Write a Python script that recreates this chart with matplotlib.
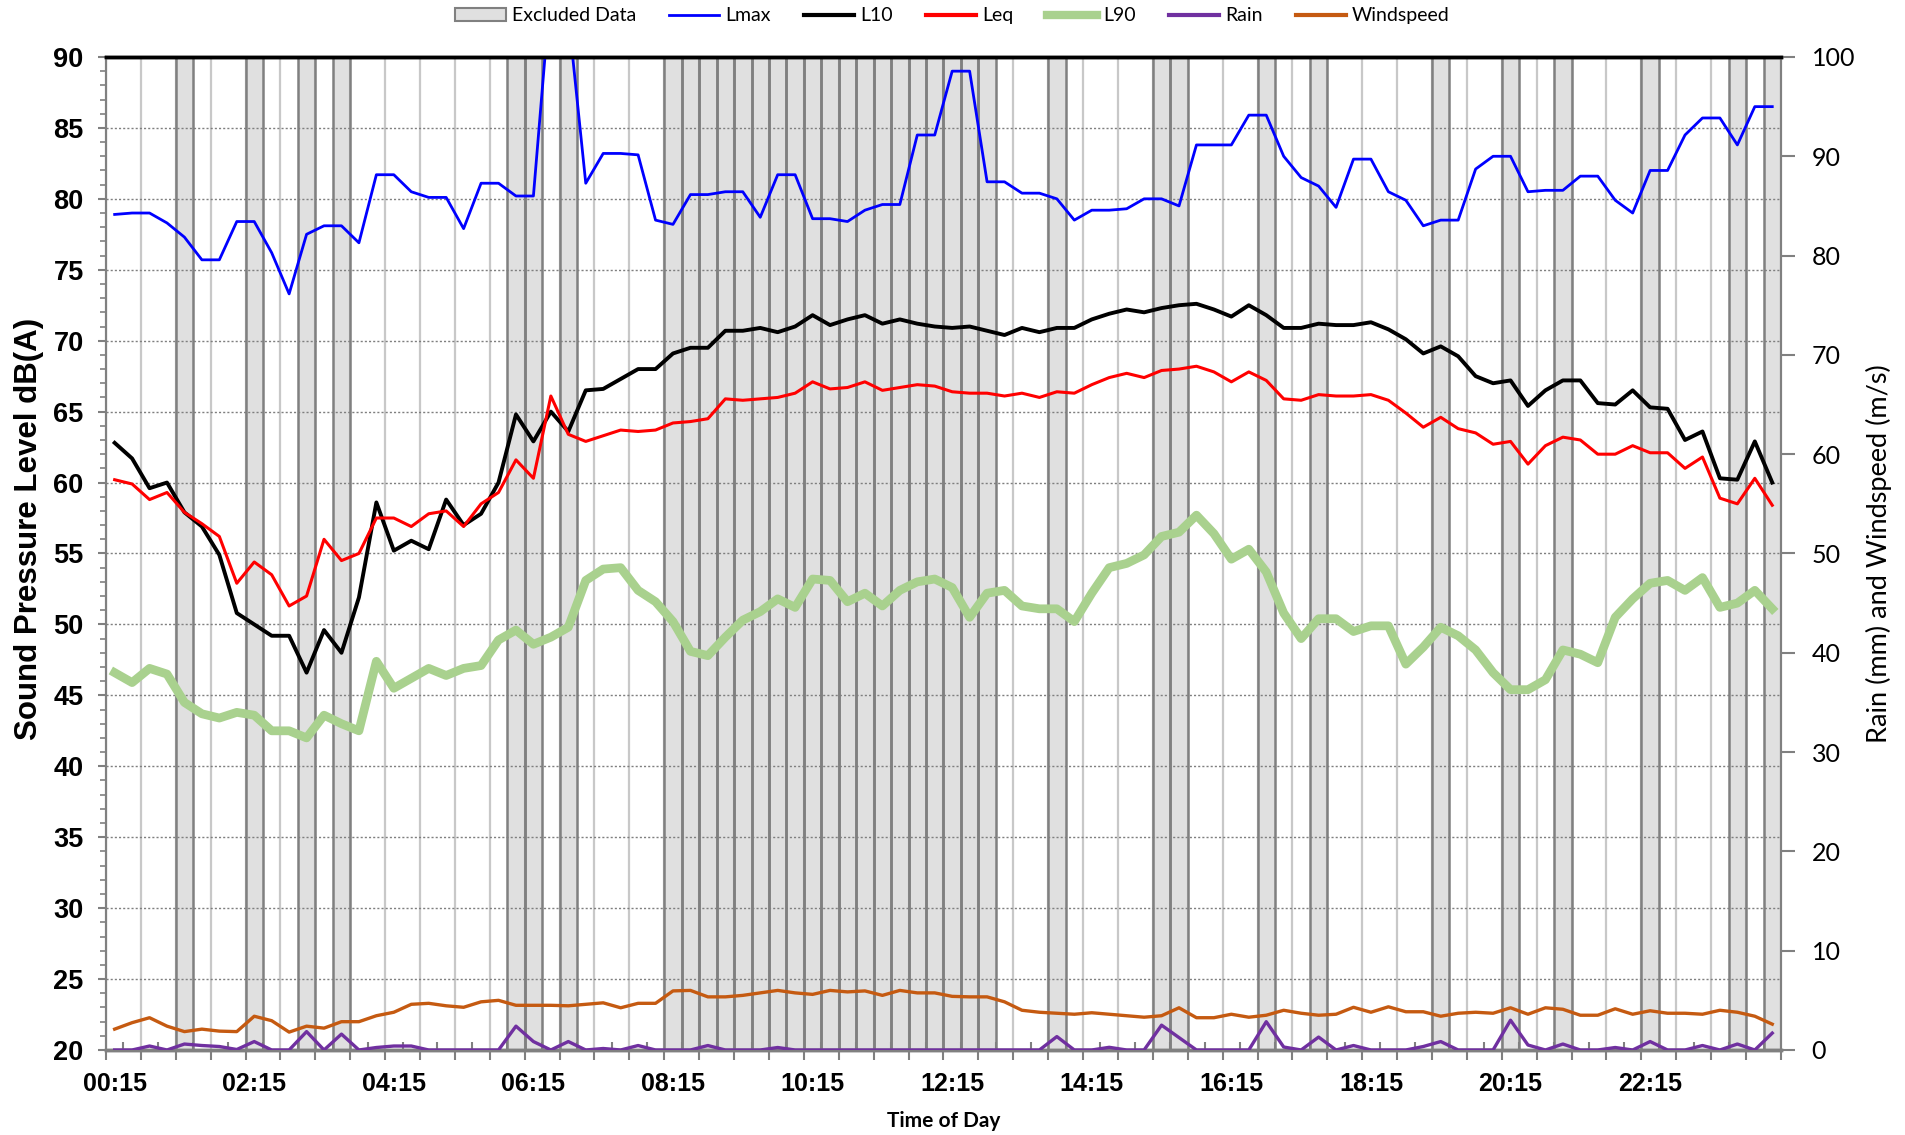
import numpy
import matplotlib
matplotlib.use('Agg')
import matplotlib.pyplot as plt
from matplotlib.patches import Patch
from matplotlib.lines import Line2D

# 15 minute periods, 00:15 .. 24:00
time_labels = ['00:15', '02:15', '04:15', '06:15', '08:15', '10:15',
               '12:15', '14:15', '16:15', '18:15', '20:15', '22:15']
label_index = [0, 8, 16, 24, 32, 40, 48, 56, 64, 72, 80, 88]

excluded = [4, 8, 11, 13, 23, 24, 26,
            32, 33, 34, 35, 36, 37, 38, 39, 40, 41, 42, 43, 44, 45, 46, 47, 48, 49, 50,
            54, 60, 61, 66, 69, 76, 80, 83, 88, 93, 95]

lmax = [78.9, 79.0, 79.0, 78.3, 77.3, 75.7, 75.7, 78.4, 78.4, 76.2,
        73.3, 77.5, 78.1, 78.1, 76.9, 81.7, 81.7, 80.5, 80.1, 80.1,
        77.9, 81.1, 81.1, 80.2, 80.2, 95.0, 93.0, 81.1, 83.2, 83.2,
        83.1, 78.5, 78.2, 80.3, 80.3, 80.5, 80.5, 78.7, 81.7, 81.7,
        78.6, 78.6, 78.4, 79.2, 79.6, 79.6, 84.5, 84.5, 89.0, 89.0,
        81.2, 81.2, 80.4, 80.4, 80.0, 78.5, 79.2, 79.2, 79.3, 80.0,
        80.0, 79.5, 83.8, 83.8, 83.8, 85.9, 85.9, 83.0, 81.5, 80.9,
        79.4, 82.8, 82.8, 80.5, 79.9, 78.1, 78.5, 78.5, 82.1, 83.0,
        83.0, 80.5, 80.6, 80.6, 81.6, 81.6, 79.9, 79.0, 82.0, 82.0,
        84.5, 85.7, 85.7, 83.8, 86.5, 86.5]

l10 = [62.8, 61.7, 59.6, 60.0, 57.9, 56.9, 54.9, 50.8, 50.0, 49.2,
       49.2, 46.6, 49.6, 48.0, 51.9, 58.6, 55.2, 55.9, 55.3, 58.8,
       57.0, 57.8, 60.0, 64.8, 62.9, 65.0, 63.6, 66.5, 66.6, 67.3,
       68.0, 68.0, 69.1, 69.5, 69.5, 70.7, 70.7, 70.9, 70.6, 71.0,
       71.8, 71.1, 71.5, 71.8, 71.2, 71.5, 71.2, 71.0, 70.9, 71.0,
       70.7, 70.4, 70.9, 70.6, 70.9, 70.9, 71.5, 71.9, 72.2, 72.0,
       72.3, 72.5, 72.6, 72.2, 71.7, 72.5, 71.8, 70.9, 70.9, 71.2,
       71.1, 71.1, 71.3, 70.8, 70.1, 69.1, 69.6, 68.9, 67.5, 67.0,
       67.2, 65.4, 66.5, 67.2, 67.2, 65.6, 65.5, 66.5, 65.3, 65.2,
       63.0, 63.6, 60.3, 60.2, 62.9, 60.0]

leq = [60.2, 59.9, 58.8, 59.3, 57.9, 57.1, 56.2, 52.9, 54.4, 53.5,
       51.3, 52.0, 56.0, 54.5, 55.0, 57.5, 57.5, 56.9, 57.8, 58.0,
       56.9, 58.5, 59.3, 61.6, 60.3, 66.1, 63.4, 62.9, 63.3, 63.7,
       63.6, 63.7, 64.2, 64.3, 64.5, 65.9, 65.8, 65.9, 66.0, 66.3,
       67.1, 66.6, 66.7, 67.1, 66.5, 66.7, 66.9, 66.8, 66.4, 66.3,
       66.3, 66.1, 66.3, 66.0, 66.4, 66.3, 66.9, 67.4, 67.7, 67.4,
       67.9, 68.0, 68.2, 67.8, 67.1, 67.8, 67.2, 65.9, 65.8, 66.2,
       66.1, 66.1, 66.2, 65.8, 64.9, 63.9, 64.6, 63.8, 63.5, 62.7,
       62.9, 61.3, 62.6, 63.2, 63.0, 62.0, 62.0, 62.6, 62.1, 62.1,
       61.0, 61.8, 58.9, 58.5, 60.3, 58.4]

l90 = [46.6, 45.9, 46.9, 46.5, 44.5, 43.7, 43.4, 43.8, 43.6, 42.5,
       42.5, 42.0, 43.6, 43.0, 42.5, 47.4, 45.5, 46.2, 46.9, 46.4,
       46.9, 47.1, 48.9, 49.6, 48.6, 49.1, 49.8, 53.1, 53.9, 54.0,
       52.4, 51.6, 50.2, 48.1, 47.8, 49.1, 50.3, 50.9, 51.8, 51.2,
       53.2, 53.1, 51.6, 52.2, 51.3, 52.4, 53.0, 53.2, 52.6, 50.5,
       52.2, 52.4, 51.3, 51.1, 51.1, 50.2, 52.2, 54.0, 54.3, 54.9,
       56.2, 56.5, 57.7, 56.4, 54.6, 55.3, 53.7, 50.8, 49.0, 50.4,
       50.4, 49.5, 49.9, 49.9, 47.2, 48.4, 49.8, 49.2, 48.2, 46.6,
       45.4, 45.4, 46.1, 48.2, 47.9, 47.3, 50.5, 51.8, 52.9, 53.1,
       52.4, 53.3, 51.2, 51.5, 52.4, 51.1]

rain = [0, 0, 0.4, 0, 0.6, 0.45, 0.35, 0.05, 0.85, 0,
        0, 1.85, 0, 1.6, 0, 0.25, 0.4, 0.4, 0, 0,
        0, 0, 0, 2.4, 0.85, 0, 0.85, 0, 0.15, 0,
        0.45, 0, 0, 0, 0.45, 0, 0, 0, 0.25, 0,
        0, 0, 0, 0, 0, 0, 0, 0, 0, 0,
        0, 0, 0, 0, 1.35, 0, 0, 0.27, 0, 0,
        2.5, 1.25, 0, 0, 0, 0, 2.85, 0.3, 0, 1.3,
        0, 0.45, 0, 0, 0, 0.35, 0.85, 0, 0, 0,
        3.0, 0.5, 0, 0.6, 0, 0, 0.25, 0, 0.85, 0,
        0, 0.45, 0, 0.6, 0, 1.7]

wind = [2.1, 2.75, 3.25, 2.4, 1.85, 2.1, 1.9, 1.85, 3.4, 2.95,
        1.8, 2.4, 2.2, 2.85, 2.85, 3.45, 3.8, 4.6, 4.7, 4.45,
        4.3, 4.85, 5.0, 4.5, 4.5, 4.5, 4.45, 4.6, 4.75, 4.25,
        4.7, 4.7, 5.95, 6.0, 5.35, 5.35, 5.5, 5.75, 6.0, 5.75,
        5.6, 6.0, 5.85, 5.95, 5.5, 6.0, 5.75, 5.75, 5.4, 5.35,
        5.35, 4.85, 4.0, 3.8, 3.7, 3.6, 3.75, 3.6, 3.45, 3.3,
        3.45, 4.25, 3.25, 3.25, 3.6, 3.3, 3.5, 4.0, 3.7, 3.5,
        3.6, 4.3, 3.8, 4.35, 3.85, 3.85, 3.4, 3.7, 3.8, 3.7,
        4.25, 3.6, 4.25, 4.1, 3.5, 3.5, 4.15, 3.6, 3.95, 3.7,
        3.7, 3.6, 4.0, 3.8, 3.4, 2.6]

y_min, y_max = 20, 90
y2_min, y2_max = 0, 100

axis_grey = '#808080'
bar_fill = '#E0E0E0'
col_lmax = '#0000FF'
col_l10 = '#000000'
col_leq = '#FF0000'
col_l90 = '#A9D18E'
col_rain = '#7030A0'
col_wind = '#C55A11'

bold_font = 'Liberation Sans'
light_font = 'Lato'

x = numpy.arange(len(lmax))
plot_box = [0.0556, 0.0749, 0.8793, 0.8749]

fig = plt.figure(figsize=(19.05, 11.35), dpi=100)
ax = fig.add_axes(plot_box)
ax2 = ax.twinx()

# excluded data columns: fill under the grid, edges over it
ax.bar(excluded, [y_max - y_min] * len(excluded), bottom=y_min, width=1.0,
       color=bar_fill, linewidth=0, zorder=0.3)
ax.bar(excluded, [y_max - y_min] * len(excluded), bottom=y_min, width=1.0,
       fill=False, edgecolor=axis_grey, linewidth=1.8, zorder=0.7)

ax.plot(x, lmax, color=col_lmax, linewidth=2.0, zorder=3)
ax.plot(x, l10, color=col_l10, linewidth=2.8, zorder=4)
ax.plot(x, leq, color=col_leq, linewidth=2.2, zorder=5)
ax.plot(x, l90, color=col_l90, linewidth=6.3, zorder=2, solid_joinstyle='round')

ax2.plot(x, rain, color=col_rain, linewidth=2.4, zorder=3)
ax2.plot(x, wind, color=col_wind, linewidth=2.4, zorder=2)

ax.set_xlim(-0.5, len(lmax) - 0.5)
ax.set_ylim(y_min, y_max)
ax2.set_ylim(y2_min, y2_max)

# grid
ax.set_axisbelow(True)
ax.set_yticks(numpy.arange(y_min, y_max + 1, 5))
ax.set_yticks(numpy.arange(y_min, y_max + 1, 1), minor=True)
ax.set_xticks(numpy.arange(-0.5, len(lmax), 2))
ax.set_xticks(numpy.arange(0.5, len(lmax), 2), minor=True)
ax.grid(axis='y', which='major', color='#7F7F7F', linestyle=(0, (1.5, 1.5)), linewidth=1.0)
ax.grid(axis='x', which='major', color='#C8C8C8', linestyle='-', linewidth=1.6)

ax.tick_params(axis='x', which='major', direction='out', length=7, width=1.5,
               color=axis_grey, labelbottom=False)
ax.tick_params(axis='x', which='minor', direction='in', length=6, width=1.5,
               color=axis_grey)
ax.tick_params(axis='y', which='major', direction='out', length=6, width=1.5,
               color=axis_grey, pad=10)
ax.tick_params(axis='y', which='minor', direction='out', length=4, width=1.2,
               color=axis_grey)
for label in ax.get_yticklabels():
    label.set_fontfamily(bold_font)
    label.set_fontweight('bold')
    label.set_fontsize(19.5)

# time labels sit in the middle of their period
ax3 = fig.add_axes(plot_box, frameon=False)
ax3.patch.set_visible(False)
ax3.set_xlim(ax.get_xlim())
ax3.set_yticks([])
ax3.set_xticks(label_index)
ax3.set_xticklabels(time_labels, fontfamily=bold_font, fontweight='bold', fontsize=18)
ax3.tick_params(axis='x', length=0, pad=16)
ax3.set_xlabel('Time of Day', fontfamily=light_font, fontweight='bold', fontsize=15, labelpad=11)

ax2.set_yticks(numpy.arange(y2_min, y2_max + 1, 10))
ax2.tick_params(axis='y', direction='out', length=10, width=1.5, color=axis_grey, pad=12)
for label in ax2.get_yticklabels():
    label.set_fontfamily(light_font)
    label.set_fontsize(18)

ax.set_ylabel('Sound Pressure Level dB(A)', fontfamily=bold_font, fontweight='bold',
              fontsize=22.5)
ax.yaxis.set_label_coords(-0.037, 0.525)
ax2.set_ylabel('Rain (mm) and Windspeed (m/s)', fontfamily=light_font, fontsize=19.5,
               labelpad=8)

for a in (ax, ax2):
    a.spines['left'].set_color(axis_grey)
    a.spines['right'].set_color(axis_grey)
    a.spines['bottom'].set_color(axis_grey)
    a.spines['left'].set_linewidth(1.5)
    a.spines['right'].set_linewidth(1.5)
    a.spines['bottom'].set_linewidth(2.5)
    a.spines['top'].set_color('black')
    a.spines['top'].set_linewidth(2.5)

handles = [Patch(facecolor=bar_fill, edgecolor=axis_grey, linewidth=1.5),
           Line2D([], [], color=col_lmax, linewidth=2.0),
           Line2D([], [], color=col_l10, linewidth=3.0),
           Line2D([], [], color=col_leq, linewidth=3.0),
           Line2D([], [], color=col_l90, linewidth=6.0),
           Line2D([], [], color=col_rain, linewidth=3.0),
           Line2D([], [], color=col_wind, linewidth=3.0)]
names = ['Excluded Data', 'Lmax', 'L10', 'Leq', 'L90', 'Rain', 'Windspeed']
fig.legend(handles, names, loc='center', bbox_to_anchor=(0.5, 0.986), ncol=7,
           frameon=False, prop={'family': light_font, 'size': 14},
           handlelength=2.6, handletextpad=0.3, columnspacing=1.7)

plt.savefig('out.png', dpi=100)
